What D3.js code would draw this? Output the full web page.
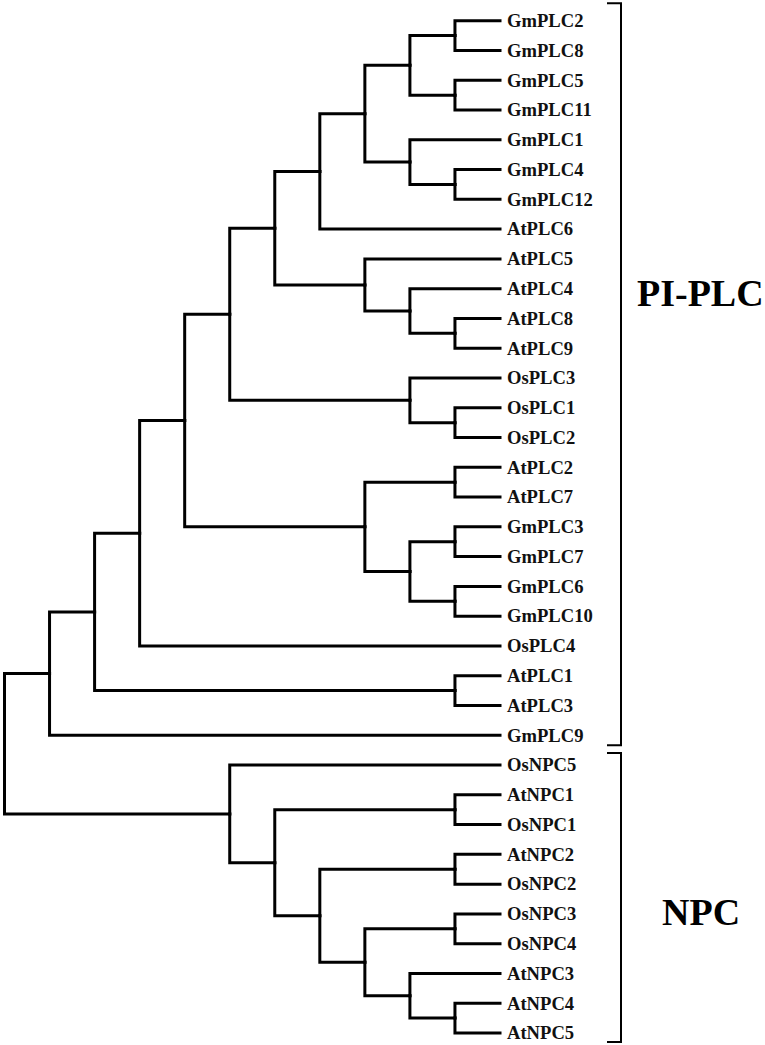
<!DOCTYPE html>
<html>
<head>
<meta charset="utf-8">
<script src="https://cdn.jsdelivr.net/npm/d3@7"></script>
<style>
  html, body { margin: 0; padding: 0; background: #fff; }
  svg { display: block; }
</style>
</head>
<body>
<svg id="chart" width="765" height="1045"></svg>
<script>
// ---- Data: tree topology (nested pairs of leaf names) ----
const gmCore = [[["GmPLC2", "GmPLC8"], ["GmPLC5", "GmPLC11"]], ["GmPLC1", ["GmPLC4", "GmPLC12"]]];
const atCladeA = ["AtPLC5", ["AtPLC4", ["AtPLC8", "AtPLC9"]]];
const osClade = ["OsPLC3", ["OsPLC1", "OsPLC2"]];
const mixedClade = [["AtPLC2", "AtPLC7"], [["GmPLC3", "GmPLC7"], ["GmPLC6", "GmPLC10"]]];
const atCladeB = ["AtPLC1", "AtPLC3"];
const piplc = [[[[[[[gmCore, "AtPLC6"], atCladeA], osClade], mixedClade], "OsPLC4"], atCladeB], "GmPLC9"];
const npc = ["OsNPC5", [["AtNPC1", "OsNPC1"], [["AtNPC2", "OsNPC2"], [["OsNPC3", "OsNPC4"], ["AtNPC3", ["AtNPC4", "AtNPC5"]]]]]];
const treeData = [piplc, npc];

const groupNames = ["PI-PLC", "NPC"];
const groupFirstLeaf = ["GmPLC2", "OsNPC5"];
const groupLastLeaf = ["GmPLC9", "AtNPC5"];

// ---- Layout ----
const svg = d3.select("#chart");
const root = d3.hierarchy(treeData, d => Array.isArray(d) ? d : null);
const leaves = root.leaves();
const maxH = root.height;

const x = d3.scaleLinear().domain([maxH, 0]).range([4.5, 500]);
const y = d3.scaleLinear().domain([0, leaves.length - 1]).range([20.7, 1033]);

leaves.forEach((l, i) => { l.yy = y(i); });
root.eachAfter(d => {
  d.xx = x(d.height);
  if (d.children) {
    d.yy = (d.children[0].yy + d.children[d.children.length - 1].yy) / 2;
  }
});
leaves.forEach(l => { l.xx = x(0); });

// branches
svg.append("g")
  .selectAll("path")
  .data(root.descendants().filter(d => d.parent))
  .join("path")
  .attr("d", d => `M${d.parent.xx},${d.parent.yy}V${d.yy}H${d.xx}`)
  .attr("fill", "none")
  .attr("stroke", "#000")
  .attr("stroke-width", 3)
  .attr("stroke-linejoin", "miter")
  .attr("stroke-linecap", "square");

// leaf labels
svg.append("g")
  .selectAll("text")
  .data(leaves)
  .join("text")
  .attr("x", d => d.xx + 7)
  .attr("y", d => d.yy + 6.3)
  .attr("font-family", "'Liberation Serif', 'Times New Roman', serif")
  .attr("font-weight", "bold")
  .attr("font-size", 18.6)
  .attr("fill", "#111")
  .text(d => d.data);

// group brackets
const leafIndex = name => leaves.findIndex(l => l.data === name);
const bx = 621;
const bracketTop = [y(leafIndex(groupFirstLeaf[0])) - 17.5, y(leafIndex(groupFirstLeaf[1])) - 12];
const bracketBot = [y(leafIndex(groupLastLeaf[0])) + 10, y(leafIndex(groupLastLeaf[1])) + 9];
const labelPos = [[637, 306], [662, 925]];

groupNames.forEach((g, i) => {
  svg.append("path")
    .attr("d", `M607,${bracketTop[i]}H${bx}V${bracketBot[i]}H607`)
    .attr("fill", "none")
    .attr("stroke", "#000")
    .attr("stroke-width", 2);
  svg.append("text")
    .attr("x", labelPos[i][0])
    .attr("y", labelPos[i][1])
    .attr("font-family", "'Liberation Serif', 'Times New Roman', serif")
    .attr("font-weight", "bold")
    .attr("font-size", 38)
    .attr("fill", "#000")
    .text(g);
});
</script>
</body>
</html>
